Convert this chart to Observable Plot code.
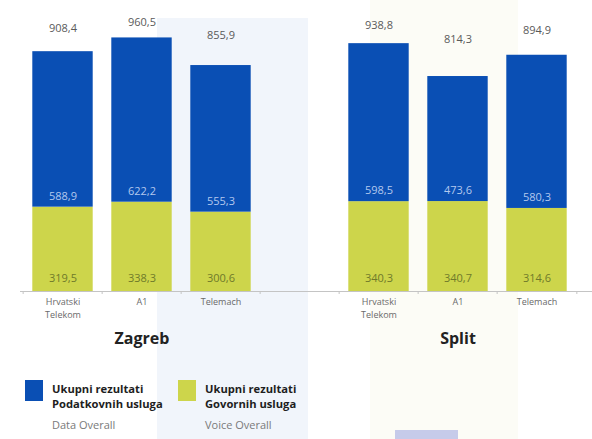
<!DOCTYPE html>
<html>
<head>
<meta charset="utf-8">
<script src="https://cdn.jsdelivr.net/npm/d3@7"></script>
<script src="https://cdn.jsdelivr.net/npm/@observablehq/plot@0.6"></script>
<style>
  html, body { margin: 0; padding: 0; background: #ffffff; }
  #wrap { position: relative; width: 592px; height: 439px; overflow: hidden; font-family: "Open Sans", sans-serif; }
  .bg { position: absolute; z-index: 0; }
  #chart { position: absolute; left: 0; top: 0; z-index: 1; }
  #chart svg { background: transparent; }
  .leg { position: absolute; z-index: 2; }
  .sw { position: absolute; width: 18px; height: 21px; }
  .lt { position: absolute; font-weight: 700; font-size: 11.2px; line-height: 15px; color: #1e1e1e; white-space: nowrap; }
  .ls { position: absolute; font-size: 11px; color: #7a7a7a; white-space: nowrap; }
</style>
</head>
<body>
<div id="wrap">
  <div class="bg" style="left:157px; top:18px; width:151px; height:421px; background:#f1f5fb;"></div>
  <div class="bg" style="left:370px; top:0px; width:148px; height:439px; background:#fcfcf6;"></div>
  <div class="bg" style="left:395px; top:430px; width:63px; height:9px; background:#c6cbea;"></div>
  <div id="chart"></div>
  <div id="legend"></div>
</div>
<script>
// ---- data ----
const cities = ["Zagreb", "Zagreb", "Zagreb", "Split", "Split", "Split"];
const operators = ["Hrvatski Telekom", "A1", "Telemach", "Hrvatski Telekom", "A1", "Telemach"];
const dataOverall = [588.9, 622.2, 555.3, 598.5, 473.6, 580.3];
const voiceOverall = [319.5, 338.3, 300.6, 340.3, 340.7, 314.6];
const totals = [908.4, 960.5, 855.9, 938.8, 814.3, 894.9];
const seriesNames = ["Data", "Voice"];
const seriesTitles = [["Ukupni rezultati", "Podatkovnih usluga"], ["Ukupni rezultati", "Govornih usluga"]];
const seriesSubtitles = ["Data Overall", "Voice Overall"];
const seriesColors = ["#0a4fb4", "#cdd54b"];

// ---- derived tables ----
const keys = cities.map((c, i) => c + "|" + operators[i]);
const xDomain = [keys[0], keys[1], keys[2], "gap", keys[3], keys[4], keys[5]];
const bars = keys.map((k, i) => ({key: k, city: cities[i], op: operators[i], data: dataOverall[i], voice: voiceOverall[i], total: totals[i]}));
const stacked = bars.flatMap(b => [
  {key: b.key, series: "Voice", value: b.voice},
  {key: b.key, series: "Data", value: b.data}
]);
const fmt = v => v.toFixed(1).replace(".", ",");
const step = (578 - 20) / xDomain.length;
const titleKeys = [keys[1], keys[4]];

const chart = Plot.plot({
  width: 592,
  height: 360,
  marginLeft: 20,
  marginRight: 0,
  marginTop: 27,
  marginBottom: 69,
  style: {fontFamily: "'Open Sans', sans-serif", background: "transparent", overflow: "visible"},
  x: {domain: xDomain, range: [20, 578], padding: 0, axis: null, label: null},
  y: {domain: [0, 1000], axis: null, label: null},
  color: {domain: seriesNames, range: seriesColors},
  marks: [
    Plot.barY(stacked, {x: "key", y: "value", fill: "series", order: ["Voice", "Data"], insetLeft: 9.3, insetRight: 9.3}),
    Plot.ruleY([0], {stroke: "#c4c4c4", strokeWidth: 1}),
    Plot.axisX({ticks: xDomain, tickSize: 3, tickFormat: () => "", label: null, dx: -step / 2, stroke: "#c4c4c4"}),
    Plot.axisX({ticks: [xDomain[xDomain.length - 1]], tickSize: 3, tickFormat: () => "", label: null, dx: step / 2, stroke: "#c4c4c4"}),
    Plot.axisX({
      ticks: keys, tickSize: 0, tickPadding: 5, fontSize: 9, fill: "#6a6a6a", lineHeight: 1.38, label: null,
      tickFormat: d => d.split("|")[1].replace(" ", "\n")
    }),
    Plot.text(titleKeys, {x: d => d, frameAnchor: "bottom", dy: 52, text: d => d.split("|")[0], fontSize: 16, fontWeight: "bold", fill: "#222222"}),
    Plot.text(bars, {x: "key", y: d => 589 + 0.447 * d.total, text: d => fmt(d.total), fill: "#5a5a5a", fontSize: 11}),
    Plot.text(bars, {x: "key", y: "voice", dy: -11, text: d => fmt(d.data), fill: "#b3c8ee", fontSize: 11}),
    Plot.text(bars, {x: "key", frameAnchor: "bottom", dy: -10, text: d => fmt(d.voice), fill: "#6f7a2a", fontSize: 11})
  ]
});
document.getElementById("chart").appendChild(chart);

// ---- legend ----
const legend = document.getElementById("legend");
const legX = [25, 178];
seriesNames.forEach((s, i) => {
  const g = document.createElement("div");
  g.className = "leg";
  g.style.left = legX[i] + "px";
  g.style.top = "380px";
  g.innerHTML =
    `<div class="sw" style="left:0;top:0;background:${seriesColors[i]}"></div>` +
    `<div class="lt" style="left:27px;top:1px">${seriesTitles[i][0]}<br>${seriesTitles[i][1]}</div>` +
    `<div class="ls" style="left:27px;top:37px">${seriesSubtitles[i]}</div>`;
  legend.appendChild(g);
});
</script>
</body>
</html>
